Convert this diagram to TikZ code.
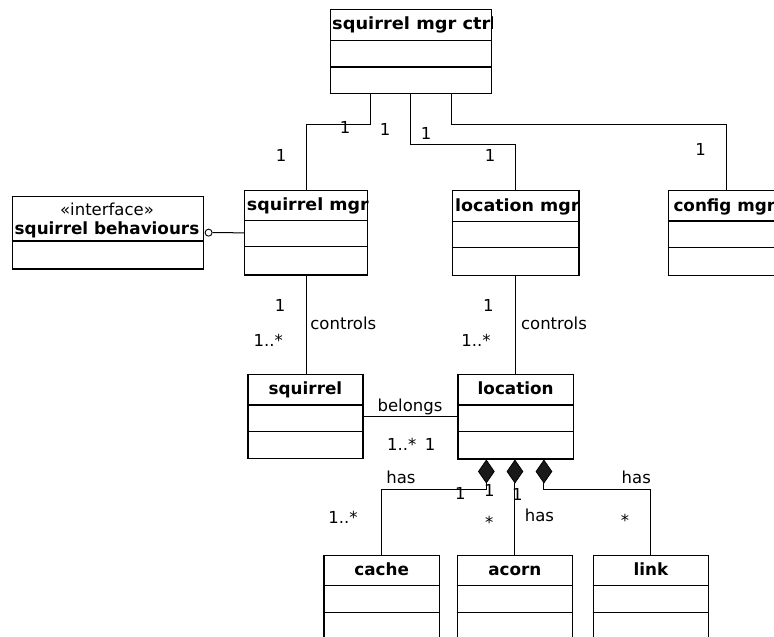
\documentclass[tikz,border=0pt]{standalone}
\usepackage{fontspec}
\setmainfont{DejaVu Sans}
\usetikzlibrary{shapes.geometric}
\tikzset{
  cls/.style={draw=black, line width=1.3pt, fill=white, inner sep=0pt, rectangle, anchor=north west},
  sepline/.style={line width=1.2pt},
  conn/.style={line width=1pt},
  lbl/.style={font=\fontsize{16.5}{18}\selectfont, anchor=base, inner sep=0pt},
  ttl/.style={font=\fontsize{16.8}{18}\selectfont\bfseries, anchor=base, inner sep=0pt},
  comp/.style={diamond, draw, fill=black!90, line width=0.8pt, minimum width=16pt, minimum height=23pt, inner sep=0pt, anchor=north},
  lolli/.style={circle, draw, line width=0.9pt, minimum size=7pt, inner sep=0pt, fill=white},
}
\newcommand{\classbox}[7]{%
  \node[cls, minimum width=#4pt, minimum height=#5pt] (#1) at (#2,#3) {};
  \draw[sepline] ([yshift=-#6pt]#1.north west) -- ([yshift=-#6pt]#1.north east);
  \draw[sepline] ([yshift=-#7pt]#1.north west) -- ([yshift=-#7pt]#1.north east);
}
\begin{document}
\begin{tikzpicture}[x=1pt, y=-1pt]
\useasboundingbox (0,0) rectangle (774,637);
\fill[white] (0,0) rectangle (774,637);
\clip (0,0) rectangle (774,637);

% classes
\classbox{ctrl}{330}{9}{161}{84}{31.7}{58}
\classbox{smgr}{244}{190}{123}{84.3}{30.7}{56.7}
\classbox{lmgr}{451.7}{190}{126.6}{85}{31.7}{57.7}
\classbox{cfg}{667.7}{190}{116.6}{84.5}{31}{57.5}
\classbox{squirrel}{247.3}{374}{115}{83.5}{31}{57.7}
\classbox{location}{457.3}{374}{115.4}{84.3}{31}{57.7}
\classbox{cache}{323.3}{555}{115.4}{100}{30.5}{57.3}
\classbox{acorn}{456.7}{555}{115}{100}{30.5}{57.3}
\classbox{link}{592.7}{555}{115}{100}{30.5}{57.3}

% interface
\node[cls, minimum width=191pt, minimum height=72.6pt] (iface) at (11.7,195.7) {};
\draw[sepline] ([yshift=-45.3pt]iface.north west) -- ([yshift=-45.3pt]iface.north east);
\node[lbl] (tif1) at (107,215) {«interface»};
\node[ttl] (tif2) at (107,234) {squirrel behaviours};
\node[lolli] (lol) at ([xshift=4.6pt]iface.east) {};

% titles (clipped by their boxes)
\begin{scope}
  \clip (ctrl.north west) rectangle (ctrl.south east);
  \node[ttl, anchor=base west, xscale=1.06, transform shape] (tctrl) at (332,29.5) {squirrel mgr ctrl};
\end{scope}
\begin{scope}
  \clip (smgr.north west) rectangle (smgr.south east);
  \node[ttl, anchor=base west, xscale=1.04, transform shape] (tsmgr) at (246.7,210.7) {squirrel mgr};
\end{scope}
\begin{scope}
  \clip (lmgr.north west) rectangle (lmgr.south east);
  \node[ttl, anchor=base west, xscale=1.04, transform shape] (tlmgr) at (455,211) {location mgr};
\end{scope}
\begin{scope}
  \clip (cfg.north west) rectangle (cfg.south east);
  \node[ttl, anchor=base west] (tcfg) at (673.3,211) {config mgr};
\end{scope}
\node[ttl] (tsq) at ([yshift=-20.5pt]squirrel.north) {squirrel};
\node[ttl] (tloc) at ([yshift=-20.5pt]location.north) {location};
\node[ttl] (tcache) at ([yshift=-20pt]cache.north) {cache};
\node[ttl] (tacorn) at ([yshift=-20pt]acorn.north) {acorn};
\node[ttl] (tlink) at ([yshift=-20pt]link.north) {link};

% composition diamonds
\node[comp] (d1) at ([xshift=-29.3pt]location.south) {};
\node[comp] (d2) at ([xshift=-0.7pt]location.south) {};
\node[comp] (d3) at ([xshift=28.3pt]location.south) {};

% connectors
\draw[conn] ([xshift=-40.5pt]ctrl.south) -- ++(0,29.7) -| (smgr.north);
\draw[conn] ([xshift=-0.5pt]ctrl.south) -- ++(0,50.3) -| (lmgr.north);
\draw[conn] ([xshift=40pt]ctrl.south) -- ++(0,29.7) -| (cfg.north);
\draw[conn] (smgr.west) -- (lol.east);
\draw[conn] (smgr.south) -- (smgr.south |- squirrel.north);
\draw[conn] (lmgr.south) -- (lmgr.south |- location.north);
\draw[conn] (squirrel.east) -- (squirrel.east -| location.west);
\draw[conn] (d1.south) -- ++(0,6) -| (cache.north);
\draw[conn] (d2.south) -- (d2.south |- acorn.north);
\draw[conn] (d3.south) -- ++(0,6) -| (link.north);

% labels
\node[lbl] (l1) at (345,133) {1};
\node[lbl] (l2) at (385,135) {1};
\node[lbl] (l3) at (281,161) {1};
\node[lbl] (l4) at (426,139) {1};
\node[lbl] (l5) at (490,161) {1};
\node[lbl] (l6) at (700.7,155.5) {1};
\node[lbl] (l7) at (280,311.7) {1};
\node[lbl] (l8) at (343.3,329.3) {controls};
\node[lbl] (l9) at (268.3,346.7) {1..*};
\node[lbl] (l10) at (488.3,311.7) {1};
\node[lbl] (l11) at (554,329.3) {controls};
\node[lbl] (l12) at (476,346.7) {1..*};
\node[lbl] (l13) at (410,411.7) {belongs};
\node[lbl] (l14) at (401.7,450) {1..*};
\node[lbl] (l15) at (430,450) {1};
\node[lbl] (l16) at (401,483) {has};
\node[lbl] (l17) at (460.3,499) {1};
\node[lbl] (l18) at (489.3,496) {1};
\node[lbl] (l19) at (517.4,500) {1};
\node[lbl] (l20) at (489.3,528.7) {*};
\node[lbl] (l21) at (539.5,521.7) {has};
\node[lbl] (l22) at (636.3,483) {has};
\node[lbl] (l23) at (625,526.4) {*};
\node[lbl] (l24) at (343,523.3) {1..*};
\end{tikzpicture}
\end{document}
